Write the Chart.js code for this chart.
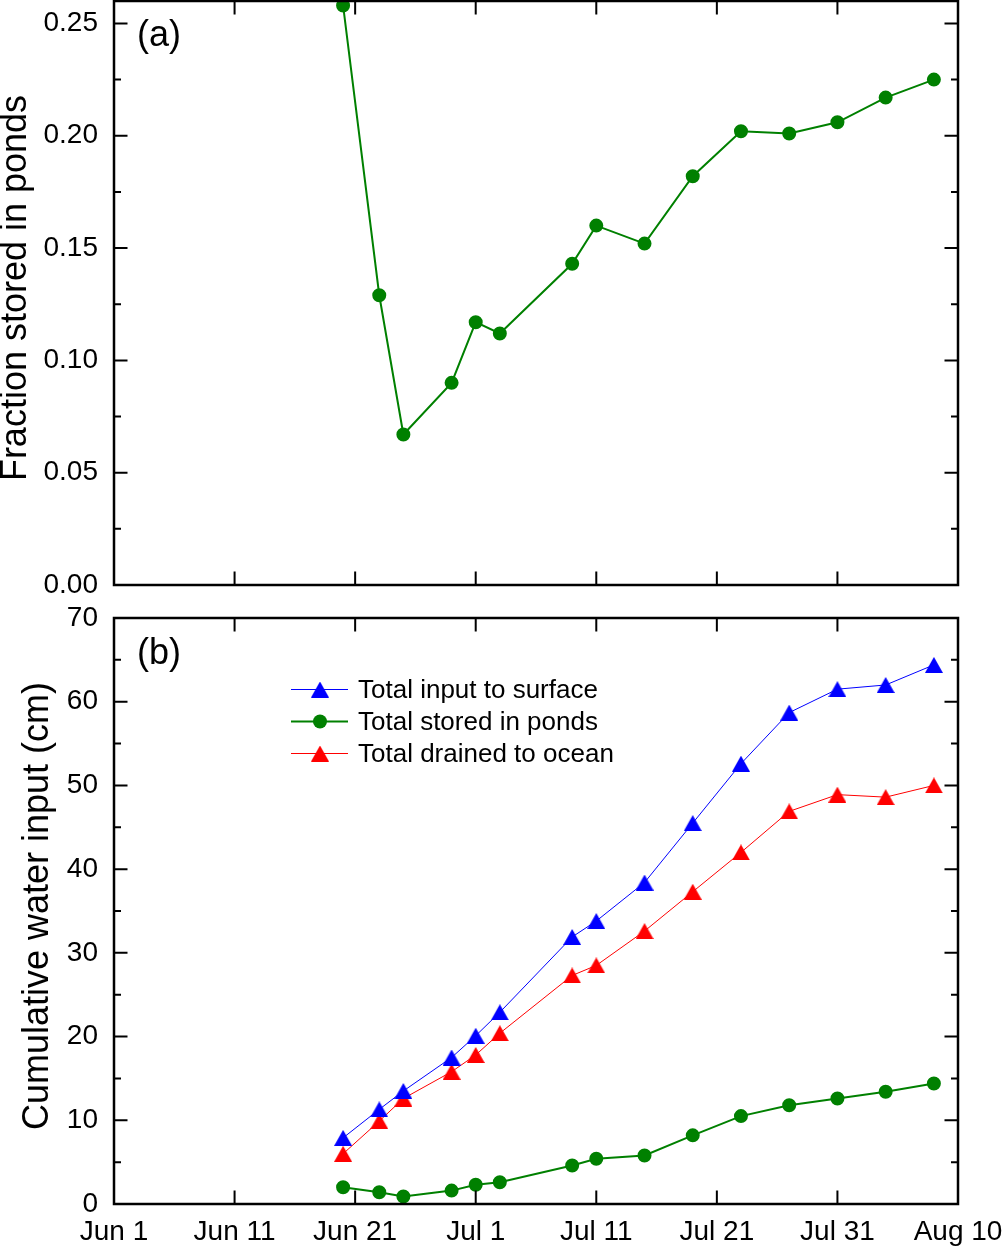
<!DOCTYPE html>
<html>
<head>
<meta charset="utf-8">
<title>Pond storage and cumulative water input</title>
<script src="https://cdn.jsdelivr.net/npm/chart.js@4.4.1/dist/chart.umd.min.js"></script>
<style>
  html, body { margin: 0; padding: 0; background: #fff; }
  #wrap { position: relative; width: 1004px; height: 1248px; }
  canvas { position: absolute; left: 0; }
  #chart-a { top: 0; }
  #chart-b { top: 602px; }
</style>
</head>
<body>
<div id="wrap">
  <canvas id="chart-a" width="1004" height="602"></canvas>
  <canvas id="chart-b" width="1004" height="646"></canvas>
</div>
<script>
// sampling dates
const sampleDates = ['Jun 20', 'Jun 23', 'Jun 25', 'Jun 29', 'Jul 1', 'Jul 3', 'Jul 9', 'Jul 11',
                     'Jul 15', 'Jul 19', 'Jul 23', 'Jul 27', 'Jul 31', 'Aug 4', 'Aug 8'];

// (a) fraction of the input stored in ponds
const fractionStored = [0.258, 0.129, 0.067, 0.090, 0.117, 0.112, 0.143, 0.160,
                        0.152, 0.182, 0.202, 0.201, 0.206, 0.217, 0.225];

// (b) cumulative water, cm
const totalInput   = [7.9, 11.3, 13.5, 17.5, 20.1, 22.9, 31.9, 33.8, 38.4, 45.5, 52.6, 58.7, 61.5, 62.0, 64.4];
const totalStored  = [2.0, 1.4, 0.9, 1.6, 2.3, 2.6, 4.6, 5.4, 5.8, 8.2, 10.5, 11.8, 12.6, 13.4, 14.4];
const totalDrained = [6.0, 9.9, 12.6, 15.8, 17.8, 20.4, 27.3, 28.5, 32.6, 37.3, 42.0, 46.9, 48.9, 48.6, 50.0];

const seriesNames = ['Total input to surface', 'Total stored in ponds', 'Total drained to ocean'];
const xTickLabels = ['Jun 1', 'Jun 11', 'Jun 21', 'Jul 1', 'Jul 11', 'Jul 21', 'Jul 31', 'Aug 10'];

const GREEN = '#008000', BLUE = '#0000ff', RED = '#ff0000';
const FONT = "'Liberation Sans', Arial, sans-serif";

Chart.defaults.font.family = FONT;
Chart.defaults.color = '#000';

// days since Jun 1
const monthStart = { Jun: 0, Jul: 30, Aug: 61 };
function dayIndex(label) {
  const [mon, d] = label.split(' ');
  return monthStart[mon] + Number(d) - 1;
}
const days = sampleDates.map(dayIndex);
const xTickDays = xTickLabels.map(dayIndex);
const toPoints = vals => days.map((d, i) => ({ x: d, y: vals[i] }));

function triangleMarker(color) {
  const c = document.createElement('canvas');
  c.width = 18; c.height = 16;
  const g = c.getContext('2d');
  g.fillStyle = color;
  g.beginPath();
  g.moveTo(9, 0); g.lineTo(18, 16); g.lineTo(0, 16);
  g.closePath();
  g.fill();
  return c;
}

// frame, inward ticks on all four sides, panel letter, y title
const decorations = {
  id: 'decorations',
  afterDatasetsDraw(chart, args, opts) {
    const { ctx, chartArea: a, scales: { x, y } } = chart;
    const MAJOR = 13.5, MINOR = 7;
    ctx.save();
    ctx.strokeStyle = '#000';
    ctx.lineWidth = 2;
    ctx.beginPath();
    const yv = y.ticks.map(t => t.value);
    yv.forEach((v, i) => {
      const py = y.getPixelForValue(v);
      ctx.moveTo(a.left, py); ctx.lineTo(a.left + MAJOR, py);
      ctx.moveTo(a.right, py); ctx.lineTo(a.right - MAJOR, py);
      if (i < yv.length - 1) {
        const pm = y.getPixelForValue((v + yv[i + 1]) / 2);
        ctx.moveTo(a.left, pm); ctx.lineTo(a.left + MINOR, pm);
        ctx.moveTo(a.right, pm); ctx.lineTo(a.right - MINOR, pm);
      }
    });
    x.ticks.forEach(t => {
      const px = x.getPixelForValue(t.value);
      ctx.moveTo(px, a.bottom); ctx.lineTo(px, a.bottom - MAJOR);
      ctx.moveTo(px, a.top); ctx.lineTo(px, a.top + MAJOR);
    });
    ctx.stroke();
    ctx.lineWidth = 2.5;
    ctx.strokeRect(a.left, a.top, a.right - a.left, a.bottom - a.top);

    ctx.fillStyle = '#000';
    ctx.font = '36px ' + FONT;
    ctx.textAlign = 'left';
    ctx.textBaseline = 'alphabetic';
    ctx.fillText(opts.label, a.left + 23, a.top + opts.labelY);

    ctx.translate(opts.titleX, (a.top + a.bottom) / 2 - 5);
    ctx.rotate(-Math.PI / 2);
    ctx.textAlign = 'center';
    ctx.textBaseline = 'middle';
    ctx.fillText(opts.title, 0, 0);
    ctx.restore();
  }
};

// legend drawn as line + marker + text
const lineLegend = {
  id: 'lineLegend',
  afterDraw(chart, args, opts) {
    const { ctx } = chart;
    ctx.save();
    ctx.font = '26px ' + FONT;
    ctx.fillStyle = '#000';
    ctx.textBaseline = 'alphabetic';
    chart.data.datasets.forEach((ds, i) => {
      const ry = opts.y + i * opts.rowGap;
      ctx.strokeStyle = ds.borderColor;
      ctx.lineWidth = ds.borderWidth;
      ctx.beginPath();
      ctx.moveTo(opts.x, ry); ctx.lineTo(opts.x + 57, ry);
      ctx.stroke();
      const mx = opts.x + 29;
      if (typeof ds.pointStyle === 'object') {
        ctx.drawImage(ds.pointStyle, mx - ds.pointStyle.width / 2, ry - ds.pointStyle.height / 2);
      } else {
        ctx.fillStyle = ds.pointBackgroundColor;
        ctx.beginPath();
        ctx.arc(mx, ry, 7, 0, Math.PI * 2);
        ctx.fill();
        ctx.fillStyle = '#000';
      }
      ctx.fillText(ds.label, opts.x + 67, ry + 8);
    });
    ctx.restore();
  }
};

function xAxis(showLabels) {
  return {
    type: 'linear',
    min: 0,
    max: 70,
    afterFit(s) { s.height = showLabels ? 44 : 0; s.paddingLeft = 0; s.paddingRight = 0; },
    ticks: {
      display: showLabels,
      stepSize: 10,
      autoSkip: false,
      maxRotation: 0,
      padding: 14,
      font: { size: 28, lineHeight: 1 },
      callback: v => {
        const i = xTickDays.indexOf(v);
        return i >= 0 ? xTickLabels[i] : '';
      }
    },
    grid: { display: false, drawTicks: false },
    border: { display: false }
  };
}

function yAxis(max, step, digits) {
  return {
    min: 0,
    max: max,
    afterFit(s) { s.width = 114; s.paddingTop = 0; s.paddingBottom = 0; },
    ticks: {
      stepSize: step,
      includeBounds: false,
      padding: 16,
      font: { size: 28, lineHeight: 1 },
      callback: v => v.toFixed(digits)
    },
    grid: { display: false, drawTicks: false },
    border: { display: false }
  };
}

const greenDots = {
  borderColor: GREEN,
  borderWidth: 2,
  pointRadius: 6,
  pointBorderWidth: 2,
  pointBackgroundColor: GREEN,
  pointBorderColor: GREEN
};

new Chart(document.getElementById('chart-a'), {
  type: 'line',
  data: {
    datasets: [{
      label: 'Fraction stored in ponds',
      data: toPoints(fractionStored),
      ...greenDots,
      clip: false
    }]
  },
  options: {
    responsive: false,
    animation: false,
    layout: { autoPadding: false, padding: { top: 1, bottom: 17, left: 0, right: 46 } },
    scales: { x: xAxis(false), y: yAxis(0.26, 0.05, 2) },
    plugins: {
      legend: { display: false },
      tooltip: { enabled: false },
      decorations: { label: '(a)', labelY: 45, title: 'Fraction stored in ponds', titleX: 16.5 }
    }
  },
  plugins: [decorations]
});

new Chart(document.getElementById('chart-b'), {
  type: 'line',
  data: {
    datasets: [{
      label: seriesNames[0],
      data: toPoints(totalInput),
      borderColor: BLUE,
      borderWidth: 1,
      pointStyle: triangleMarker(BLUE),
      pointRadius: 8
    }, {
      label: seriesNames[1],
      data: toPoints(totalStored),
      ...greenDots
    }, {
      label: seriesNames[2],
      data: toPoints(totalDrained),
      borderColor: RED,
      borderWidth: 1,
      pointStyle: triangleMarker(RED),
      pointRadius: 8
    }]
  },
  options: {
    responsive: false,
    animation: false,
    layout: { autoPadding: false, padding: { top: 16, bottom: 0, left: 0, right: 46 } },
    scales: { x: xAxis(true), y: yAxis(70, 10, 0) },
    plugins: {
      legend: { display: false },
      tooltip: { enabled: false },
      decorations: { label: '(b)', labelY: 46, title: 'Cumulative water input (cm)', titleX: 38 },
      lineLegend: { x: 291, y: 87.5, rowGap: 32 }
    }
  },
  plugins: [decorations, lineLegend]
});
</script>
</body>
</html>
